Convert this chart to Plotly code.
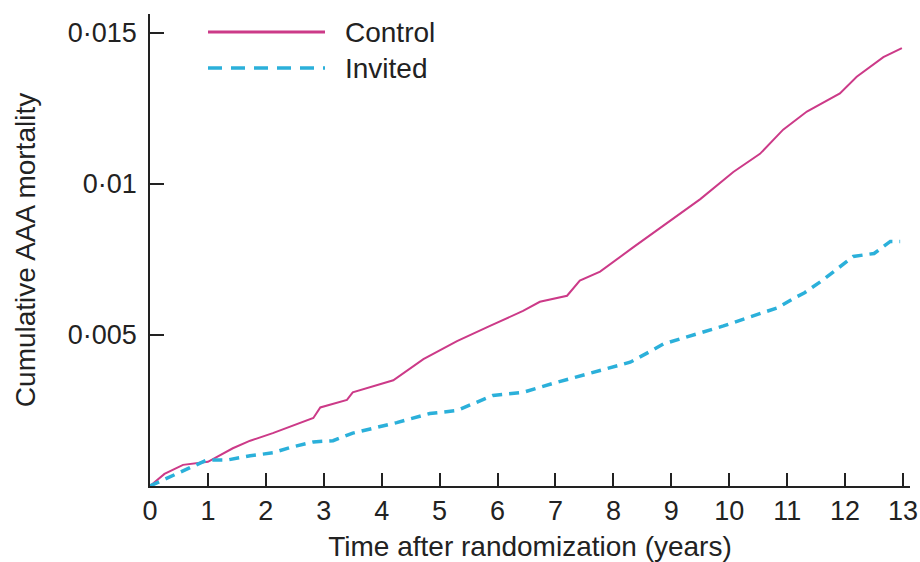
import plotly.graph_objects as go

# Control group (Kaplan-Meier style cumulative AAA mortality)
control_years = [0, 0.25, 0.57, 1.0, 1.43, 1.73, 2.12, 2.47, 2.82, 2.94, 3.4, 3.5, 3.85, 4.2,
                 4.72, 5.3, 5.87, 6.44, 6.73, 7.2, 7.42, 7.77, 8.34, 8.92, 9.5, 10.07, 10.53,
                 10.93, 11.34, 11.91, 12.2, 12.66, 12.98]
control_vals = [0, 0.0004, 0.0007, 0.0008, 0.00125, 0.0015, 0.00175, 0.002, 0.00225, 0.0026,
                0.00285, 0.0031, 0.0033, 0.0035, 0.0042, 0.0048, 0.0053, 0.0058, 0.0061, 0.0063,
                0.0068, 0.0071, 0.0079, 0.0087, 0.0095, 0.0104, 0.0110, 0.0118, 0.0124, 0.0130,
                0.01355, 0.0142, 0.0145]

# Invited group
invited_years = [0, 0.4, 0.69, 0.98, 1.33, 1.73, 2.12, 2.47, 2.82, 3.16, 3.5, 3.85, 4.26, 4.83,
                 5.3, 5.92, 6.44, 6.96, 7.54, 7.94, 8.29, 8.58, 8.86, 9.2, 9.55, 9.9, 10.36,
                 10.83, 11.1, 11.3, 11.6, 11.91, 12.14, 12.5, 12.78, 12.95]
invited_vals = [0, 0.00036, 0.0006, 0.00086, 0.00086, 0.001, 0.0011, 0.0013, 0.00146, 0.0015,
                0.00175, 0.0019, 0.0021, 0.0024, 0.0025, 0.0030, 0.0031, 0.0034, 0.0037, 0.0039,
                0.0041, 0.0044, 0.0047, 0.0049, 0.0051, 0.0053, 0.0056, 0.0059, 0.0062, 0.0064,
                0.0068, 0.00725, 0.0076, 0.0077, 0.0081, 0.0081]

x_ticks = list(range(0, 14))
y_tickvals = [0.005, 0.01, 0.015]
y_ticktext = ["0·005", "0·01", "0·015"]

PINK = "#CC3A88"
CYAN = "#2BB0DA"
FONT = "Liberation Sans, Arial, sans-serif"
FS = 28

fig = go.Figure()
fig.add_trace(go.Scatter(x=control_years, y=control_vals, mode="lines", name="Control",
                         line=dict(color=PINK, width=2)))
fig.add_trace(go.Scatter(x=invited_years, y=invited_vals, mode="lines", name="Invited",
                         line=dict(color=CYAN, width=3.5, dash="10px,7px")))

# Manual legend (lines + labels)
fig.add_shape(type="line", xref="paper", yref="paper", x0=(208-150)/760, x1=(325-150)/760,
              y0=(486-32)/472, y1=(486-32)/472, line=dict(color=PINK, width=3))
fig.add_shape(type="line", xref="paper", yref="paper", x0=(208-150)/760, x1=(325-150)/760,
              y0=(486-68)/472, y1=(486-68)/472, line=dict(color=CYAN, width=3.5, dash="14px,9px"))
fig.add_annotation(text="Control", xref="paper", yref="paper", x=(343-150)/760, y=(486-32)/472,
                   xanchor="left", yanchor="middle", showarrow=False,
                   font=dict(size=FS, color="#222", family=FONT))
fig.add_annotation(text="Invited", xref="paper", yref="paper", x=(343-150)/760, y=(486-68)/472,
                   xanchor="left", yanchor="middle", showarrow=False,
                   font=dict(size=FS, color="#222", family=FONT))

fig.update_layout(
    width=920, height=562,
    margin=dict(l=150, r=10, t=14, b=76),
    paper_bgcolor="white", plot_bgcolor="white",
    showlegend=False,
    font=dict(family=FONT, size=FS, color="#222"),
)
fig.update_xaxes(range=[0, 13.12], tickvals=x_ticks, ticktext=[str(v) for v in x_ticks],
                 showline=True, linecolor="#222", linewidth=1.5, ticks="inside", ticklen=13,
                 tickwidth=1.5, tickcolor="#222", showgrid=False, zeroline=False,
                 automargin=False,
                 title=dict(text="Time after randomization (years)", font=dict(size=FS), standoff=13),
                 tickfont=dict(size=FS - 1))
fig.update_yaxes(range=[0, 0.01563], tickvals=y_tickvals, ticktext=y_ticktext,
                 showline=True, linecolor="#222", linewidth=1.5, ticks="inside", ticklen=14,
                 tickwidth=1.5, tickcolor="#222", showgrid=False, zeroline=False,
                 automargin=False, ticklabelstandoff=6,
                 title=dict(text="Cumulative AAA mortality", font=dict(size=FS), standoff=24),
                 tickfont=dict(size=FS - 1))

fig.write_html("out.html")
